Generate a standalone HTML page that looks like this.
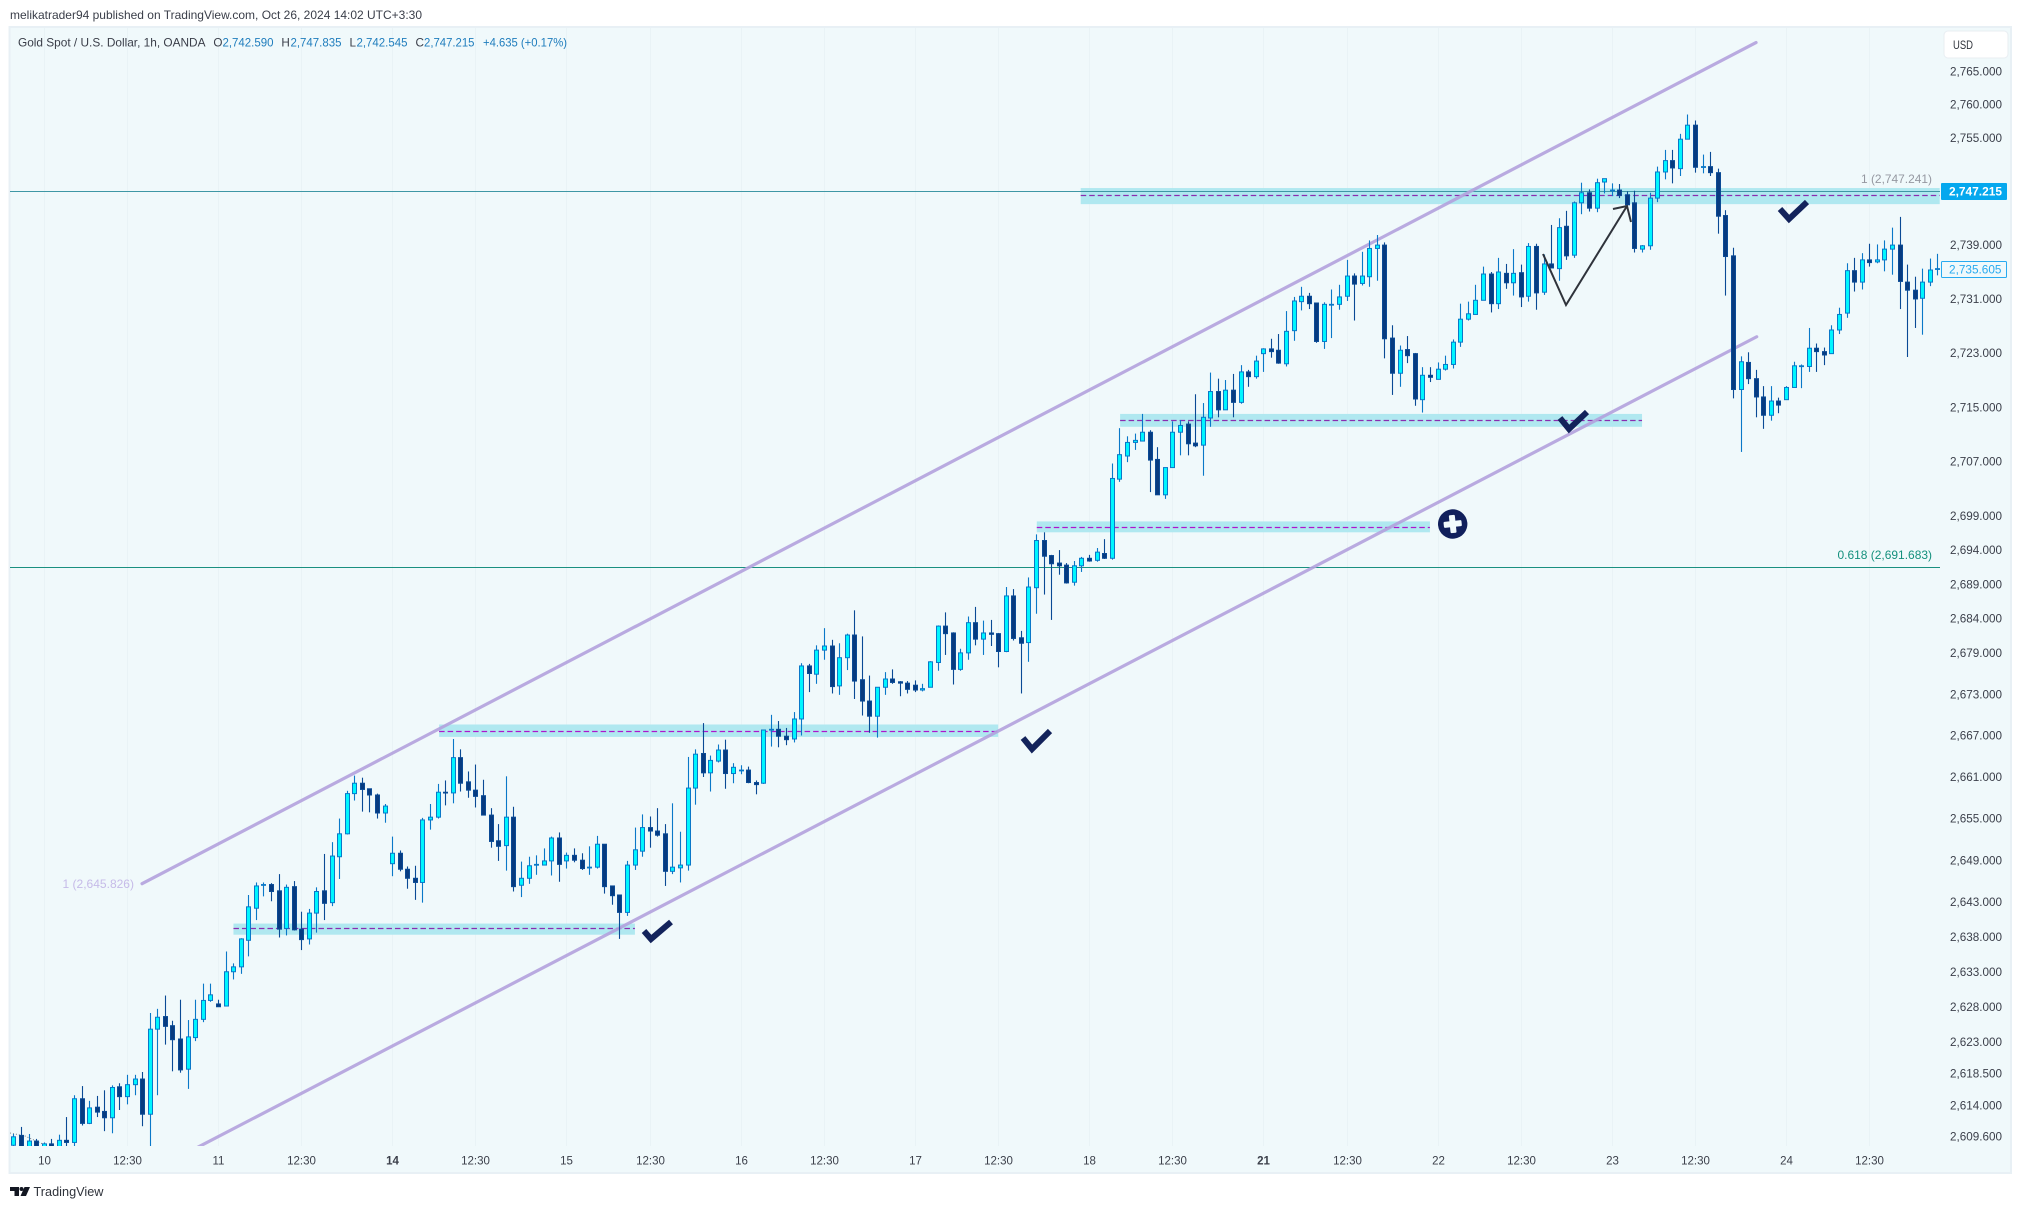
<!DOCTYPE html>
<html lang="en">
<head>
<meta charset="utf-8">
<title>Gold Spot / U.S. Dollar chart</title>
<style>
html,body{margin:0;padding:0;background:#fff;width:2022px;height:1209px;overflow:hidden}
svg{display:block;font-family:"Liberation Sans",sans-serif}
</style>
</head>
<body>
<svg id="chart" xmlns="http://www.w3.org/2000/svg" width="2022" height="1209" viewBox="0 0 2022 1209">
  <defs>
    <clipPath id="pane-clip"><rect x="10" y="28" width="1930" height="1118"/></clipPath>
  </defs>
  <rect x="0" y="0" width="2022" height="1209" fill="#ffffff"/>
  <text x="10" y="19" font-size="12" fill="#3a3e49" textLength="412" lengthAdjust="spacingAndGlyphs">melikatrader94 published on TradingView.com, Oct 26, 2024 14:02 UTC+3:30</text>
  <rect x="9.5" y="27" width="2001.5" height="1146" fill="#f0f9fb" stroke="#e8f0f5" stroke-width="2"/>
  <g id="grid"></g>
  <g clip-path="url(#pane-clip)">
    <g id="zones"></g>
    <g id="levels"></g>
    <g id="channels"></g>
    <polyline points="10,1133 25,1136 45,1145" fill="none" stroke="#7b7f88" stroke-width="1" stroke-dasharray="1 2"/>
    <g id="candles"></g>
  </g>
  <g fill="none" stroke="#2f333b" stroke-width="2">
    <polyline points="1543,254 1566,305 1627,206"/>
    <polyline points="1613,209 1627,206 1631,222"/>
  </g>
  <g fill="none" stroke="#13235b" stroke-width="6" stroke-linejoin="miter">
    <polyline points="644,931 651,939 671,922"/>
    <polyline points="1023,738 1032,749 1050,731"/>
    <polyline points="1560,418 1569,429 1587,412"/>
    <polyline points="1780,209 1789,219 1807,202"/>
  </g>
  <g transform="translate(1452.7 524) rotate(-6)">
    <circle r="14.7" fill="#11205c"/>
    <rect x="-9" y="-3" width="18" height="6" rx="1" fill="#f1fafc"/>
    <rect x="-3" y="-9" width="6" height="18" rx="1" fill="#f1fafc"/>
  </g>
  <text x="62.5" y="888" font-size="11.7" fill="#c6bbe8" textLength="71.5" lengthAdjust="spacingAndGlyphs">1 (2,645.826)</text>
  <text x="1861" y="183" font-size="11.7" fill="#9598a1" textLength="71" lengthAdjust="spacingAndGlyphs">1 (2,747.241)</text>
  <text x="1837.5" y="559" font-size="11.7" fill="#14907d" textLength="94.5" lengthAdjust="spacingAndGlyphs">0.618 (2,691.683)</text>

  <g id="price-axis"></g>
  <g id="time-axis"></g>

  <g font-size="11.7">
    <text x="18" y="46.5" fill="#3a3e49" textLength="187.5" lengthAdjust="spacingAndGlyphs">Gold Spot / U.S. Dollar, 1h, OANDA</text>
    <text x="213.4" y="46.5" fill="#3a3e49">O</text>
    <text x="222.5" y="46.5" fill="#1f7dbd" textLength="51" lengthAdjust="spacingAndGlyphs">2,742.590</text>
    <text x="281.4" y="46.5" fill="#3a3e49">H</text>
    <text x="290.5" y="46.5" fill="#1f7dbd" textLength="51" lengthAdjust="spacingAndGlyphs">2,747.835</text>
    <text x="349.5" y="46.5" fill="#3a3e49">L</text>
    <text x="356.5" y="46.5" fill="#1f7dbd" textLength="51" lengthAdjust="spacingAndGlyphs">2,742.545</text>
    <text x="415.5" y="46.5" fill="#3a3e49">C</text>
    <text x="424" y="46.5" fill="#1f7dbd" textLength="50.5" lengthAdjust="spacingAndGlyphs">2,747.215</text>
    <text x="483" y="46.5" fill="#1f7dbd" textLength="84" lengthAdjust="spacingAndGlyphs">+4.635 (+0.17%)</text>
  </g>

  <g>
    <rect x="1944" y="31" width="64" height="27" rx="4" fill="#ffffff" stroke="#e8eef2" stroke-width="1"/>
    <text x="1953" y="49" font-size="12" fill="#2f333b" textLength="20" lengthAdjust="spacingAndGlyphs">USD</text>
  </g>
  <g>
    <rect x="1941" y="183" width="66" height="17" rx="1" fill="#05a8ee"/>
    <text x="1949" y="195.5" font-size="11.7" font-weight="bold" fill="#ffffff" textLength="53" lengthAdjust="spacingAndGlyphs">2,747.215</text>
  </g>
  <g>
    <rect x="1941.5" y="261.5" width="65" height="16" rx="1" fill="#f0f9fb" stroke="#28aaf0" stroke-width="1"/>
    <text x="1949" y="273.5" font-size="11.7" fill="#28aaf0" textLength="52.5" lengthAdjust="spacingAndGlyphs">2,735.605</text>
  </g>

  <g>
    <path d="M10 1187h9v9h-4.5v-5H10z M24.5 1187h5.5l-4 9h-5.5z" fill="#131722"/>
    <circle cx="21.5" cy="1189" r="2" fill="#131722"/>
    <text x="33.5" y="1196" font-size="12.5" fill="#2f333b" textLength="70" lengthAdjust="spacingAndGlyphs">TradingView</text>
  </g>
</svg>
<script>
const opens=[
2608.5,2609.9,2608.0,2609.1,2608.0,2608.7,2608.0,2609.2,2608.9,2615.1,
2611.6,2613.9,2613.3,2612.4,2616.8,2615.4,2617.1,2617.9,2612.9,2625.0,
2626.8,2625.5,2623.6,2619.3,2623.8,2626.4,2629.1,2628.6,2628.3,2633.2,
2633.9,2637.7,2642.3,2645.6,2645.7,2644.8,2639.4,2645.4,2639.3,2637.9,
2641.6,2644.8,2643.1,2649.7,2653.0,2658.8,2660.3,2659.5,2658.6,2656.0,
2648.7,2650.2,2647.9,2646.6,2646.0,2655.0,2655.4,2659.0,2658.9,2664.0,
2660.5,2659.3,2658.5,2655.7,2652.0,2651.3,2655.4,2645.6,2646.6,2648.5,
2648.5,2649.1,2652.4,2649.1,2649.9,2649.2,2648.1,2648.2,2651.5,2645.5,
2644.2,2641.7,2648.5,2650.5,2653.9,2653.4,2653.0,2647.6,2648.1,2648.5,
2659.6,2664.6,2661.8,2663.5,2665.1,2661.7,2662.1,2662.2,2660.4,2660.3,
2668.0,2668.1,2667.1,2666.7,2669.6,2677.3,2676.1,2679.6,2680.2,2674.4,
2678.5,2681.8,2675.3,2672.2,2670.0,2674.2,2675.4,2675.0,2674.8,2674.5,
2673.8,2674.2,2677.8,2683.1,2682.1,2676.8,2679.2,2683.6,2681.2,2682.1,
2682.0,2679.4,2687.5,2681.4,2680.7,2688.7,2695.6,2693.4,2692.3,2692.0,
2689.5,2691.9,2693.0,2692.7,2693.7,2693.0,2704.6,2708.0,2710.0,2710.2,
2711.5,2707.5,2702.3,2706.3,2711.5,2712.7,2709.9,2709.6,2713.6,2717.5,
2714.8,2717.7,2715.9,2720.4,2719.7,2723.1,2723.8,2723.6,2721.6,2726.5,
2730.8,2731.6,2730.6,2724.9,2730.4,2730.4,2731.6,2734.6,2733.5,2734.5,
2738.7,2739.2,2725.4,2720.2,2723.7,2723.1,2716.3,2719.9,2719.3,2720.8,
2721.5,2724.8,2728.2,2728.9,2731.0,2734.9,2730.5,2735.0,2733.6,2735.1,
2731.6,2739.0,2732.2,2736.4,2735.7,2742.0,2737.7,2745.5,2747.0,2744.7,
2748.6,2747.3,2747.4,2746.7,2745.5,2738.6,2739.1,2746.2,2750.1,2751.8,
2750.6,2755.0,2757.1,2750.9,2750.9,2750.0,2743.6,2737.6,2717.8,2721.8,
2719.4,2716.7,2714.0,2716.1,2716.3,2718.1,2721.2,2721.2,2723.9,2723.4,
2723.1,2726.6,2729.1,2735.4,2733.7,2737.0,2736.7,2737.0,2738.6,2739.2,
2733.7,2732.5,2731.3,2733.7,2735.6];
const highs=[
2610.1,2611.1,2610.1,2609.4,2608.9,2609.4,2610.0,2612.5,2615.6,2616.9,
2614.8,2615.5,2616.3,2617.0,2617.3,2618.5,2618.5,2618.9,2627.3,2627.9,
2629.8,2626.2,2629.2,2626.3,2629.2,2631.5,2631.5,2629.2,2636.1,2634.4,
2638.0,2644.2,2646.0,2646.0,2645.9,2647.2,2645.7,2646.2,2641.8,2642.2,
2645.3,2650.1,2651.8,2655.2,2659.2,2661.4,2661.1,2659.5,2658.8,2657.3,
2652.6,2650.6,2648.3,2648.4,2655.3,2657.3,2660.2,2660.7,2666.7,2665.2,
2662.0,2663.0,2660.8,2656.7,2654.4,2661.3,2656.9,2649.0,2649.7,2649.9,
2650.9,2652.6,2653.2,2650.3,2650.9,2650.2,2651.2,2652.7,2651.5,2645.5,
2644.2,2649.1,2653.9,2655.8,2655.5,2656.7,2654.4,2657.4,2653.3,2664.1,
2665.2,2669.0,2664.3,2665.9,2666.6,2663.2,2662.9,2662.7,2660.7,2668.0,
2670.2,2669.3,2668.3,2670.6,2677.7,2677.6,2680.3,2682.8,2681.1,2680.6,
2682.0,2685.4,2681.6,2675.9,2674.2,2676.4,2676.8,2675.1,2675.1,2675.2,
2674.7,2678.0,2683.2,2685.1,2682.2,2679.8,2684.5,2685.9,2683.9,2684.0,
2682.1,2688.8,2688.5,2682.4,2690.2,2696.5,2696.8,2693.5,2694.2,2692.3,
2692.6,2693.2,2693.5,2694.5,2695.8,2706.9,2712.1,2710.9,2711.3,2714.2,
2711.8,2709.3,2706.3,2713.1,2713.3,2713.1,2717.1,2715.8,2720.3,2719.4,
2719.2,2720.1,2721.4,2720.7,2722.8,2723.9,2725.3,2726.0,2729.4,2731.5,
2733.0,2732.1,2730.6,2730.7,2732.6,2733.3,2737.0,2735.0,2738.2,2739.9,
2740.7,2739.6,2727.3,2724.3,2725.7,2723.2,2721.1,2721.1,2721.8,2722.8,
2725.2,2730.5,2730.8,2733.3,2736.0,2735.2,2737.3,2736.4,2738.6,2736.3,
2739.5,2739.4,2737.8,2742.2,2743.2,2744.3,2745.7,2748.5,2747.5,2749.1,
2749.1,2748.4,2748.3,2747.2,2747.3,2739.2,2747.0,2750.9,2753.4,2753.4,
2755.8,2758.7,2757.8,2752.7,2753.1,2750.6,2744.4,2738.8,2722.7,2723.3,
2720.7,2718.3,2718.3,2716.6,2718.3,2721.9,2721.5,2726.9,2724.6,2724.0,
2727.3,2729.9,2736.5,2737.3,2738.0,2739.4,2739.3,2739.9,2741.8,2743.4,
2736.3,2734.5,2735.7,2737.2,2737.9];
const lows=[
2607,2607,2607,2607,2607,2607,2607,2607,2607,2611.3,
2611.5,2612.5,2610.5,2610.2,2613.5,2614.3,2615.6,2611.2,2607,2615.6,
2622.8,2619.0,2618.8,2616.5,2623.3,2626.0,2628.9,2628.2,2628.3,2632.1,
2632.9,2635.4,2640.6,2644.0,2643.3,2638.1,2638.4,2639.1,2636.3,2637.1,
2638.8,2640.6,2642.6,2646.5,2652.9,2657.8,2656.2,2656.1,2655.2,2654.6,
2646.9,2647.6,2645.1,2643.5,2643.1,2653.6,2655.2,2657.1,2657.4,2659.1,
2658.2,2656.8,2655.7,2651.0,2649.1,2647.7,2644.7,2643.9,2645.8,2647.1,
2648.5,2647.0,2646.1,2648.0,2648.9,2647.8,2647.1,2648.0,2644.4,2642.8,
2637.9,2641.2,2647.8,2649.7,2651.0,2652.6,2645.5,2647.2,2646.0,2647.7,
2657.2,2661.2,2659.1,2663.3,2659.5,2660.3,2661.6,2660.3,2658.7,2660.2,
2665.6,2665.5,2665.8,2666.2,2667.2,2673.5,2674.7,2678.2,2673.3,2673.1,
2676.7,2672.5,2670.1,2667.6,2666.9,2673.1,2674.7,2672.9,2673.3,2673.5,
2673.6,2674.2,2676.6,2678.9,2674.6,2676.6,2678.2,2680.3,2678.9,2680.2,
2677.1,2679.3,2681.0,2673.3,2677.9,2684.9,2687.7,2684.0,2690.6,2689.3,
2689.0,2691.0,2692.5,2692.5,2692.9,2692.8,2704.2,2707.1,2708.9,2710.2,
2702.7,2702.3,2701.7,2706.3,2708.1,2708.1,2709.3,2705.1,2712.3,2713.7,
2714.8,2713.7,2715.7,2718.2,2719.4,2720.4,2722.5,2721.6,2721.2,2725.0,
2729.5,2729.7,2724.7,2723.8,2725.4,2729.6,2730.9,2728.0,2733.2,2733.0,
2733.9,2722.4,2717.0,2718.2,2721.7,2715.4,2714.4,2718.9,2719.3,2720.6,
2720.9,2724.1,2728.0,2728.9,2731.0,2729.2,2729.7,2732.7,2731.7,2730.0,
2730.8,2729.6,2731.8,2735.8,2733.9,2737.0,2737.3,2743.8,2744.2,2744.1,
2746.9,2746.5,2746.2,2745.1,2738.1,2738.1,2738.5,2745.6,2749.0,2748.4,
2749.5,2755.0,2750.0,2749.9,2749.5,2740.9,2731.7,2716.5,2708.6,2718.6,
2713.7,2712.0,2713.2,2714.3,2716.3,2718.1,2718.0,2720.4,2720.4,2721.4,
2723.1,2726.0,2728.4,2732.3,2732.6,2736.0,2736.5,2735.3,2734.8,2729.7,
2722.6,2726.9,2725.9,2733.1,2734.7];
const closes=[
2609.7,2608.0,2609.1,2608.0,2608.7,2608.0,2609.2,2608.9,2615.1,2611.6,
2613.8,2613.2,2612.4,2616.7,2615.4,2617.1,2617.9,2612.9,2625.0,2626.7,
2625.4,2623.5,2619.2,2623.9,2626.4,2629.1,2629.9,2628.2,2633.2,2633.9,
2637.9,2642.5,2645.5,2645.7,2644.7,2639.3,2645.3,2639.2,2637.8,2641.6,
2644.7,2643.0,2649.8,2653.0,2658.8,2660.3,2659.4,2658.6,2656.0,2657.0,
2650.2,2647.9,2646.6,2646.0,2655.0,2655.4,2659.0,2658.9,2664.0,2660.3,
2659.3,2658.4,2655.7,2651.9,2651.2,2655.4,2645.4,2646.6,2648.4,2648.6,
2649.1,2652.4,2648.6,2649.9,2649.2,2648.0,2648.2,2651.5,2645.4,2644.1,
2641.7,2648.5,2650.7,2653.9,2653.4,2652.8,2647.6,2648.2,2648.5,2659.6,
2664.5,2661.8,2663.6,2665.1,2661.7,2662.6,2662.2,2660.4,2660.1,2668.0,
2668.1,2667.1,2666.6,2669.6,2677.3,2676.2,2679.6,2680.2,2674.3,2678.5,
2681.8,2675.1,2672.2,2670.0,2674.2,2675.4,2674.9,2674.8,2673.9,2673.8,
2674.0,2677.9,2683.1,2682.0,2676.8,2679.2,2683.6,2681.2,2682.1,2681.9,
2679.4,2687.5,2681.3,2680.6,2688.8,2695.6,2693.3,2692.2,2691.9,2689.4,
2691.9,2693.0,2692.6,2693.9,2693.0,2704.7,2708.2,2710.0,2710.3,2711.5,
2707.4,2702.3,2706.3,2711.5,2712.5,2709.8,2709.5,2713.7,2717.5,2714.8,
2717.7,2715.9,2720.4,2719.7,2722.0,2723.8,2723.4,2721.7,2726.4,2730.9,
2731.6,2730.5,2724.9,2730.4,2730.4,2731.5,2734.6,2733.4,2734.6,2738.7,
2739.2,2725.3,2720.2,2723.6,2722.8,2716.4,2719.9,2719.6,2720.8,2721.5,
2724.8,2728.2,2729.0,2731.0,2734.9,2730.5,2735.2,2733.6,2735.0,2731.5,
2739.0,2732.1,2736.4,2735.8,2741.8,2737.6,2745.5,2747.0,2744.7,2748.5,
2749.1,2747.4,2746.6,2745.2,2738.7,2739.1,2746.2,2750.1,2751.8,2750.7,
2755.0,2757.1,2750.8,2750.9,2750.0,2743.5,2737.5,2717.8,2721.9,2719.4,
2716.7,2714.0,2716.1,2715.5,2718.1,2721.3,2721.3,2723.9,2723.4,2722.9,
2726.6,2728.9,2735.4,2733.7,2737.0,2736.6,2737.0,2738.6,2739.2,2733.8,
2732.5,2731.2,2733.7,2735.5,2735.7];

const priceTicks=["2,765.000","2,760.000","2,755.000","2,739.000","2,731.000","2,723.000","2,715.000","2,707.000","2,699.000","2,694.000","2,689.000","2,684.000","2,679.000","2,673.000","2,667.000","2,661.000","2,655.000","2,649.000","2,643.000","2,638.000","2,633.000","2,628.000","2,623.000","2,618.500","2,614.000","2,609.600"];
const dayLabels=["10","11","14","15","16","17","18","21","22","23","24"];
const boldDays=["14","21"];
const halfDayLabel="12:30";
const barsPerDay=23;
const firstDayBar=4;
const firstHalfDayBar=15;

const zoneStartBars=[140.9,146.1,135.1,56.2,29.05];
const zoneEndBars=[254.3,215,187,130,82.05];
const zoneHighs=[2747.7,2714.2,2698.4,2668.8,2640.1];
const zoneLows=[2745.3,2712.3,2696.8,2667.0,2638.5];
const zoneMids=[2746.7,2713.3,2697.6,2667.9,2639.4];
const zoneDashColors=["#8a2eb0","#8a2eb0","#ad17cc","#ad17cc","#8a2eb0"];

const levelPrices=[2747.215,2691.683];
const levelColors=["#3f97a5","#1a9080"];

const channelStartBars=[16.98,20];
const channelStartPrices=[2645.826,2605.8];
const channelEndBars=[230.05,230.14];
const channelEndPrices=[2769.5,2725.6];

const NS="http://www.w3.org/2000/svg";
function xOf(bar){return 13.4+7.575*bar;}
function yOf(price){return 191.3+18412*Math.log(2747.215/price);}
function make(tag,attrs,parent){
  const node=document.createElementNS(NS,tag);
  for(const k in attrs){node.setAttribute(k,attrs[k]);}
  parent.appendChild(node);
  return node;
}

const gridG=document.getElementById('grid');
const timeG=document.getElementById('time-axis');
function addTimeTick(bar,label,bold){
  const x=Math.round(xOf(bar))+0.5;
  const line=make('line',{x1:x,x2:x,y1:28,y2:1146,stroke:'#e9f3f6','stroke-width':1},gridG);
  
  
  const t=make('text',{x:x,y:1164.5,'font-size':11.5,fill:'#3b3f4a','text-anchor':'middle','font-weight':bold?'bold':'normal'},timeG);
  
  
  t.textContent=label;
}
dayLabels.forEach(function(label,k){
  addTimeTick(firstDayBar+barsPerDay*k,label,boldDays.indexOf(label)>=0);
  addTimeTick(firstHalfDayBar+barsPerDay*k,halfDayLabel,false);
});

const priceG=document.getElementById('price-axis');
priceTicks.forEach(function(label){
  const value=parseFloat(label.replace(',',''));
  const t=make('text',{x:2002,y:yOf(value)+2.8,'font-size':11.7,fill:'#3b3f4a','text-anchor':'end'},priceG);
  
  
  t.textContent=label;
});

const zonesG=document.getElementById('zones');
zoneStartBars.forEach(function(startBar,k){
  const x1=xOf(startBar);
  const x2=xOf(zoneEndBars[k]);
  const y1=yOf(zoneHighs[k]);
  const y2=yOf(zoneLows[k]);
  const r=make('rect',{x:x1,y:y1,width:x2-x1,height:y2-y1,fill:'#b0e8f0'},zonesG);
  
  
  const ym=Math.round(yOf(zoneMids[k]))+0.5;
  const d=make('line',{x1:x1,x2:x2,y1:ym,y2:ym,stroke:zoneDashColors[k],'stroke-width':1.2,'stroke-dasharray':'5.5 3'},zonesG);
  
  
});

const levelsG=document.getElementById('levels');
levelPrices.forEach(function(price,k){
  const y=Math.round(yOf(price))+0.5;
  const l=make('line',{x1:10,x2:1940,y1:y,y2:y,stroke:levelColors[k],'stroke-width':1},levelsG);
  
  
});

const channelsG=document.getElementById('channels');
channelStartBars.forEach(function(bar,k){
  const l=make('line',{x1:xOf(bar),y1:yOf(channelStartPrices[k]),x2:xOf(channelEndBars[k]),y2:yOf(channelEndPrices[k]),stroke:'#b3a1dd','stroke-width':3.2,'stroke-linecap':'round','stroke-opacity':0.9},channelsG);
  
  
});

const candlesG=document.getElementById('candles');
opens.forEach(function(open,i){
  const close=closes[i];
  const up=close>=open;
  const edge=up?'#0a78c8':'#0a4a95';
  const x=Math.round(xOf(i));
  const g=make('g',{},candlesG);
  
  
  const wick=make('line',{x1:x+0.5,x2:x+0.5,y1:yOf(highs[i]),y2:yOf(lows[i]),stroke:edge,'stroke-width':1.1},g);
  
  
  const top=yOf(Math.max(open,close));
  const bottom=yOf(Math.min(open,close));
  const body=make('rect',{x:x-1.5,y:top,width:4,height:Math.max(bottom-top,0.8),fill:up?'#00f6ff':'#073b80',stroke:edge,'stroke-width':1},g);
  
  
});
</script>
</body>
</html>
